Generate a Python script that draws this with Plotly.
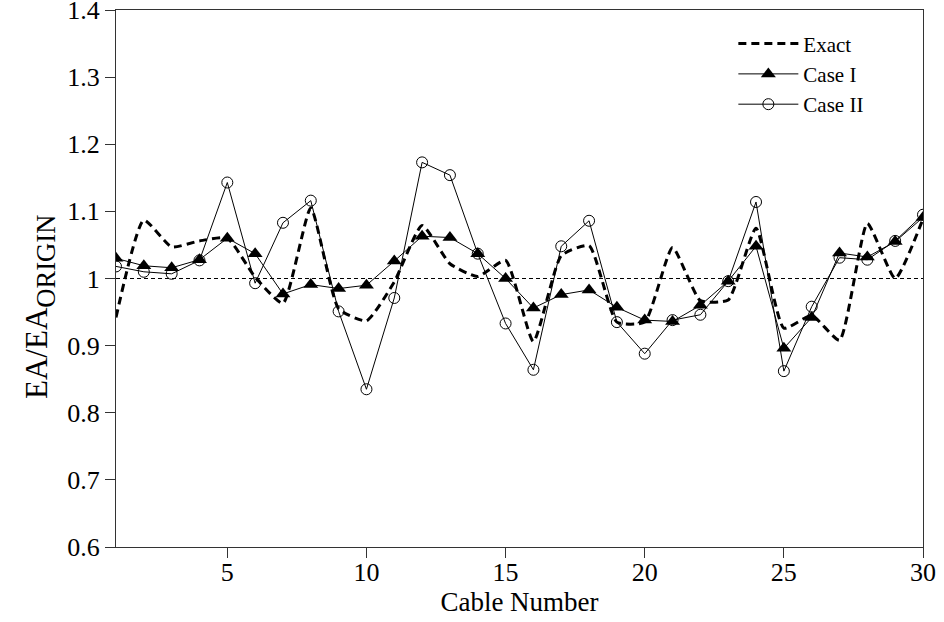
import plotly.graph_objects as go

cable = list(range(1, 31))
exact = [0.942, 1.087, 1.047, 1.056, 1.060, 1.002, 0.963, 1.105, 0.955, 0.937,
         0.995, 1.079, 1.022, 1.003, 1.027, 0.906, 1.034, 1.049, 0.935, 0.935,
         1.046, 0.967, 0.968, 1.075, 0.926, 0.945, 0.908, 1.082, 1.000, 1.089]
case1 = [1.030, 1.019, 1.016, 1.028, 1.060, 1.037, 0.977, 0.991, 0.985, 0.990,
         1.026, 1.063, 1.061, 1.037, 1.000, 0.956, 0.976, 0.983, 0.957, 0.938,
         0.936, 0.960, 0.996, 1.048, 0.896, 0.942, 1.038, 1.032, 1.055, 1.091]
case2 = [1.018, 1.010, 1.007, 1.027, 1.143, 0.993, 1.083, 1.116, 0.951, 0.835,
         0.971, 1.173, 1.154, 1.037, 0.933, 0.864, 1.048, 1.086, 0.935, 0.888,
         0.938, 0.946, 0.996, 1.114, 0.862, 0.958, 1.031, 1.028, 1.056, 1.095]

x_ticks = [5, 10, 15, 20, 25, 30]
y_ticks = [0.6, 0.7, 0.8, 0.9, 1.0, 1.1, 1.2, 1.3, 1.4]
y_ticktext = ["0.6", "0.7", "0.8", "0.9", "1", "1.1", "1.2", "1.3", "1.4"]
ref_level = 1.0

FONT = "Liberation Serif, Times New Roman, serif"

fig = go.Figure()

fig.add_trace(go.Scatter(
    x=[cable[0], cable[-1]], y=[ref_level, ref_level], mode="lines",
    line=dict(color="black", width=1, dash="4px,3px"),
    showlegend=False, hoverinfo="skip"))

fig.add_trace(go.Scatter(
    x=cable, y=exact, mode="lines", name="Exact",
    line=dict(color="black", width=3, dash="8px,5px", shape="spline", smoothing=0.5)))

fig.add_trace(go.Scatter(
    x=cable, y=case1, mode="lines+markers", name="Case I",
    line=dict(color="black", width=1),
    marker=dict(symbol="triangle-up", size=13, color="black")))

fig.add_trace(go.Scatter(
    x=cable, y=case2, mode="lines+markers", name="Case II",
    line=dict(color="black", width=1),
    marker=dict(symbol="circle-open", size=11, color="black", line=dict(width=1))))

axis_common = dict(
    showgrid=False, zeroline=False, showline=True, linecolor="#333", linewidth=1,
    mirror=True, ticks="outside", ticklen=10, tickcolor="#333", tickwidth=1,
    tickfont=dict(family=FONT, size=26, color="black"),
    ticklabeloverflow="allow", automargin=False,
)

fig.update_xaxes(range=[1, 30], tickvals=x_ticks, ticklabelstandoff=-8,
                 title=dict(text="Cable Number", font=dict(family=FONT, size=27, color="black"), standoff=4),
                 **axis_common)
fig.update_yaxes(range=[0.6, 1.4], tickvals=y_ticks, ticktext=y_ticktext,
                 **axis_common)

fig.add_annotation(
    text="EA/EA<span style='font-size:38px'><sub>ORIGIN</sub></span>",
    xref="paper", yref="paper", x=0, y=0.447, xshift=-76,
    xanchor="center", yanchor="middle", textangle=-90, showarrow=False,
    font=dict(family=FONT, size=31, color="black"))

fig.update_layout(
    width=944, height=622,
    margin=dict(l=116, r=21, t=10, b=75),
    plot_bgcolor="white", paper_bgcolor="white",
    font=dict(family=FONT, size=24, color="black"),
    legend=dict(x=0.765, y=0.975, xanchor="left", yanchor="top",
                bgcolor="rgba(0,0,0,0)", font=dict(family=FONT, size=21, color="black"),
                itemwidth=60, tracegroupgap=0),
)

fig.write_html("out.html", config={"displayModeBar": False},
               post_script="document.body.style.margin='0';")
